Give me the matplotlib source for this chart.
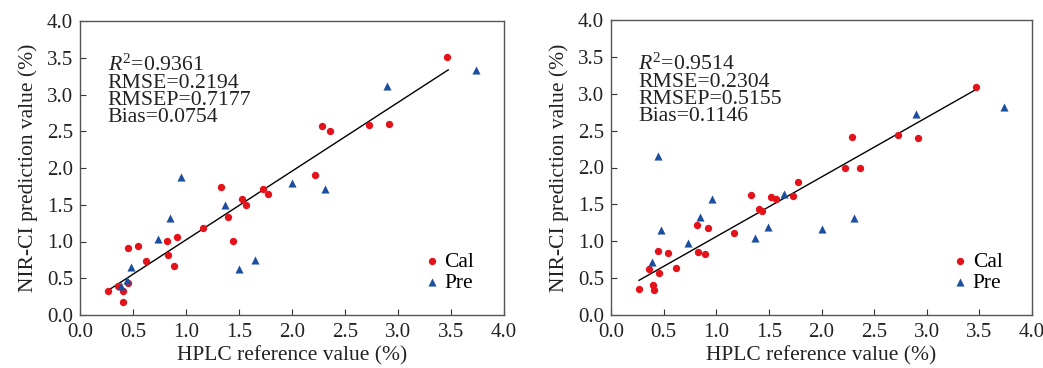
import numpy as np
import matplotlib
matplotlib.use('Agg')
import matplotlib.pyplot as plt

plt.rcParams['font.family'] = ['Liberation Serif', 'DejaVu Serif']
plt.rcParams['mathtext.fontset'] = 'custom'
plt.rcParams['mathtext.it'] = 'Liberation Serif:italic'
plt.rcParams['mathtext.rm'] = 'Liberation Serif'

# Левая панель: калибровка (Cal) и проверка (Pre)
cal_x_1 = [0.265, 0.356, 0.403, 0.403, 0.457, 0.45, 0.545, 0.62, 0.82, 0.83, 0.917, 0.89, 1.165,
           1.33, 1.40, 1.44, 1.528, 1.565, 1.726, 1.773, 2.22, 2.287, 2.36, 2.727, 2.917, 3.465]
cal_y_1 = [0.33, 0.40, 0.32, 0.18, 0.44, 0.91, 0.94, 0.73, 1.01, 0.82, 1.06, 0.66, 1.18,
           1.74, 1.33, 1.01, 1.58, 1.50, 1.71, 1.64, 1.905, 2.57, 2.50, 2.58, 2.60, 3.51]
pre_x_1 = [0.384, 0.444, 0.479, 0.734, 0.847, 0.957, 1.367, 1.496, 1.65, 2.003, 2.31, 2.898, 3.735]
pre_y_1 = [0.40, 0.475, 0.65, 1.03, 1.32, 1.88, 1.49, 0.63, 0.755, 1.79, 1.72, 3.12, 3.34]
fit_x_1 = [0.265, 3.474]
fit_y_1 = [0.335, 3.335]
stats_1 = ['0.9361', '0.2194', '0.7177', '0.0754']

# Правая панель
cal_x_2 = [0.263, 0.361, 0.402, 0.405, 0.45, 0.459, 0.545, 0.62, 0.82, 0.823, 0.893, 0.918, 1.169,
           1.33, 1.403, 1.438, 1.523, 1.565, 1.726, 1.774, 2.223, 2.29, 2.363, 2.727, 2.92, 3.468]
cal_y_2 = [0.357, 0.624, 0.407, 0.343, 0.868, 0.565, 0.845, 0.642, 1.22, 0.859, 0.832, 1.184, 1.107,
           1.623, 1.433, 1.415, 1.60, 1.568, 1.609, 1.80, 1.998, 2.414, 1.993, 2.441, 2.405, 3.096]
pre_x_2 = [0.39, 0.443, 0.478, 0.732, 0.849, 0.956, 1.365, 1.495, 1.647, 2.002, 2.312, 2.898, 3.737]
pre_y_2 = [0.723, 2.151, 1.153, 0.981, 1.324, 1.568, 1.044, 1.198, 1.636, 1.166, 1.315, 2.721, 2.825]
fit_x_2 = [0.266, 3.471]
fit_y_2 = [0.47, 3.06]
stats_2 = ['0.9514', '0.2304', '0.5155', '0.1146']

ticks = np.arange(0, 4.01, 0.5)
red = '#e3121b'
blue = '#1c4f9e'

fig = plt.figure(figsize=(10.43, 3.68), dpi=100)
ax1 = fig.add_axes([80 / 1043, 1 - 315 / 368, 424 / 1043, 294 / 368])
ax2 = fig.add_axes([611 / 1043, 1 - 315 / 368, 421 / 1043, 295 / 368])

panels = [(ax1, cal_x_1, cal_y_1, pre_x_1, pre_y_1, fit_x_1, fit_y_1, stats_1),
          (ax2, cal_x_2, cal_y_2, pre_x_2, pre_y_2, fit_x_2, fit_y_2, stats_2)]

for ax, cx, cy, px, py, fx, fy, st in panels:
    ax.plot(fx, fy, color='black', linewidth=1.0, zorder=2)
    ax.scatter(cx, cy, s=28, marker='o', color=red, label='Cal', zorder=3, linewidths=0)
    ax.scatter(px, py, s=34, marker='^', color=blue, label='Pre', zorder=3, linewidths=0)
    ax.set_xlim(0, 4)
    ax.set_ylim(0, 4)
    ax.set_xticks(ticks)
    ax.set_yticks(ticks)
    ax.set_xticklabels(['%.1f' % t for t in ticks])
    ax.set_yticklabels(['%.1f' % t for t in ticks])
    ax.tick_params(direction='in', length=4, width=0.8, labelsize=15, colors='#333333',
                   labelcolor='#222222')
    ax.tick_params(axis='x', pad=6)
    ax.tick_params(axis='y', pad=5)
    for sp in ax.spines.values():
        sp.set_color('#555555')
        sp.set_linewidth(1.0)
    ax.set_xlabel('HPLC reference value (%)', fontsize=15.5, color='#222222', labelpad=3)
    ax.set_ylabel('NIR-CI prediction value (%)', fontsize=15.5, color='#222222', labelpad=6)
    txt = ('$R^2$=' + st[0] + '\nRMSE=' + st[1] + '\nRMSEP=' + st[2] + '\nBias=' + st[3])
    ax.text(0.065, 0.885, txt, transform=ax.transAxes, fontsize=15.7, va='top', ha='left',
            linespacing=0.86, color='#222222')
    ax.legend(loc='lower right', frameon=False, fontsize=15.5, handletextpad=0.1,
              handlelength=1.0, labelspacing=0.05, borderpad=0, borderaxespad=0,
              bbox_to_anchor=(0.93, 0.075))

fig.savefig('out.png', dpi=100)
